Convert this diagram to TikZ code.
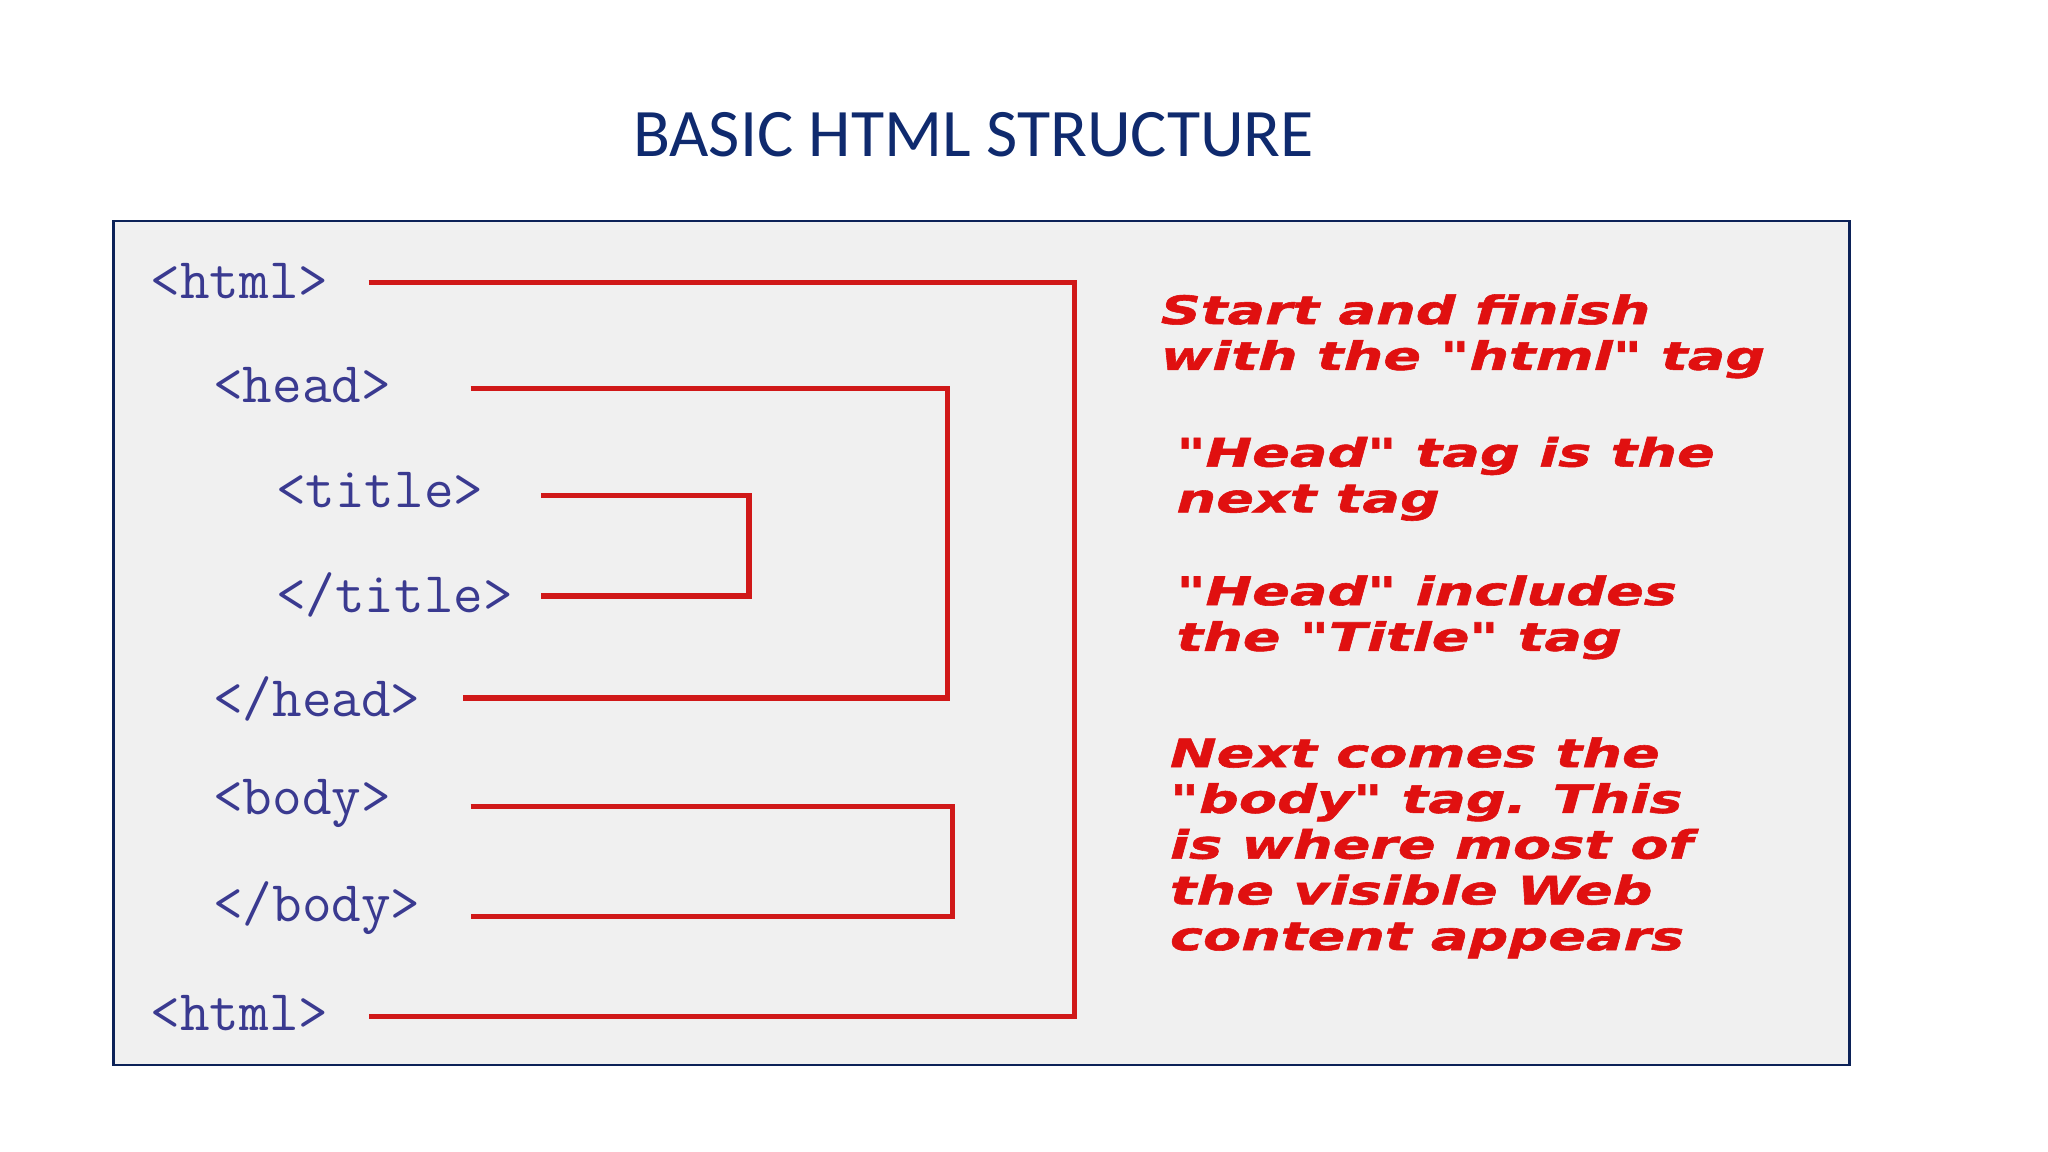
\documentclass[tikz,border=0pt]{standalone}
\usepackage{fontspec}
\setmainfont{Carlito}
\newfontfamily\notefont[FakeStretch=1.42,FakeBold=1.5]{DejaVu Sans}
\begin{document}
\begin{tikzpicture}[x=1pt,y=-1pt,
  tagtxt/.style={anchor=west,inner sep=0,text=tagblue,font=\ttfamily\fontsize{44}{44}\selectfont},
  note/.style={anchor=north west,inner sep=0,text=notered,align=left,font=\notefont\bfseries\itshape\fontsize{30}{35}\selectfont},
  bracket/.style={draw=linered,line width=4pt}]
\definecolor{tagblue}{HTML}{3A3A90}
\definecolor{notered}{HTML}{E01010}
\definecolor{linered}{HTML}{D01818}
\definecolor{titleblue}{HTML}{0F2A6E}
\useasboundingbox (0,0) rectangle (1567,881);
\fill[white] (0,0) rectangle (1567,881);
\node[text=titleblue,font=\fontsize{52}{52}\selectfont] (title) at (745,103) {BASIC HTML STRUCTURE};
\draw[draw=titleblue!80!black,line width=2pt,fill=black!6] (87,169) rectangle (1415,815);
\node[tagtxt] (t1) at (115,215) {<html>};
\node[tagtxt] (t2) at (163,295) {<head>};
\node[tagtxt] (t3) at (211,375) {<title>};
\node[tagtxt] (t4) at (211,455) {</title>};
\node[tagtxt] (t5) at (163,535) {</head>};
\node[tagtxt] (t6) at (163,615) {<body>};
\node[tagtxt] (t7) at (163,695) {</body>};
\node[tagtxt] (t8) at (115,775) {<html>};
\coordinate (a1) at (282,216); \coordinate (a2) at (282,778);
\coordinate (b1) at (360,297); \coordinate (b2) at (354,534);
\coordinate (c1) at (414,379); \coordinate (c2) at (414,456);
\coordinate (d1) at (360,617); \coordinate (d2) at (360,701);
\draw[bracket] (a1) -- (822,216) -- (822,778) -- (a2);
\draw[bracket] (b1) -- (725,297) -- (725,534) -- (b2);
\draw[bracket] (c1) -- (573,379) -- (573,456) -- (c2);
\draw[bracket] (d1) -- (729,617) -- (729,701) -- (d2);
\node[note] (n1) at (888,225) {Start and finish\\with the "html" tag};
\node[note] (n2) at (900,334) {"Head" tag is the\\next tag};
\node[note] (n3) at (900,440) {"Head" includes\\the "Title" tag};
\node[note] (n4) at (895,564) {Next comes the\\"body" tag. This\\is where most of\\the visible Web\\content appears};
\end{tikzpicture}
\end{document}
